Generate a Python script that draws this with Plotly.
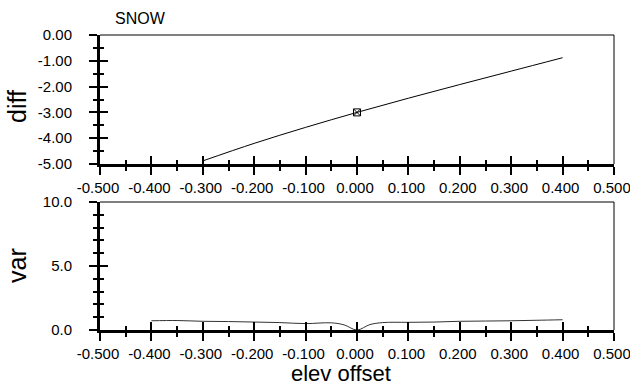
import plotly.graph_objects as go

# ---- data ----
diff_x = [-0.3, -0.2, -0.1, 0.0, 0.1, 0.2, 0.3, 0.4]
diff_y = [-4.88, -4.20, -3.58, -3.00, -2.45, -1.92, -1.40, -0.88]
marker_x = [0.0]
marker_y = [-3.0]

var_x = [-0.4, -0.35, -0.3, -0.25, -0.2, -0.15, -0.1, -0.05, -0.025, 0.0,
         0.025, 0.05, 0.1, 0.15, 0.2, 0.25, 0.3, 0.35, 0.4]
var_y = [0.72, 0.74, 0.68, 0.66, 0.62, 0.58, 0.50, 0.56, 0.40, 0.0,
         0.42, 0.58, 0.60, 0.62, 0.68, 0.70, 0.72, 0.76, 0.80]

x_tickvals = [-0.5, -0.4, -0.3, -0.2, -0.1, 0.0, 0.1, 0.2, 0.3, 0.4, 0.5]
x_ticktext = ["-0.500", "-0.400", "-0.300", "-0.200", "-0.100", "0.000",
              "0.100", "0.200", "0.300", "0.400", "0.500"]
diff_tickvals = [0, -1, -2, -3, -4, -5]
diff_ticktext = ["0.00", "-1.00", "-2.00", "-3.00", "-4.00", "-5.00"]
var_tickvals = [0, 5, 10]
var_ticktext = ["0.0", "5.0", "10.0"]

FONT = "Liberation Sans, Arial, sans-serif"
W, H = 630, 387
L, R, T, B = 100, 16, 35, 57
ph = H - T - B
top_dom = [(H - B - 164) / ph, 1.0]
bot_dom = [0.0, (H - B - 202) / ph]

fig = go.Figure()
fig.add_trace(go.Scatter(x=diff_x, y=diff_y, mode="lines", line=dict(color="black", width=1, shape="spline"),
                         xaxis="x", yaxis="y", showlegend=False))
fig.add_trace(go.Scatter(x=marker_x, y=marker_y, mode="markers",
                         marker=dict(symbol="square-x-open", size=7, color="black", line=dict(width=1)),
                         xaxis="x", yaxis="y", showlegend=False))
fig.add_trace(go.Scatter(x=var_x, y=var_y, mode="lines", line=dict(color="#333333", width=1, shape="spline"),
                         xaxis="x2", yaxis="y2", showlegend=False))
# empty traces so the inside-tick axes get drawn
for xa, ya in [("x3", "y3"), ("x4", "y4")]:
    fig.add_trace(go.Scatter(x=[None], y=[None], xaxis=xa, yaxis=ya, showlegend=False, hoverinfo="skip"))

tickfont = dict(family=FONT, size=15, color="black")

def xax(anchor, ticks, labels):
    return dict(range=[-0.5, 0.5], tickvals=x_tickvals, ticktext=x_ticktext,
                showticklabels=labels, ticks=ticks, ticklen=8, tickwidth=2, tickcolor="black",
                showline=True, linewidth=3, linecolor="black", showgrid=False, zeroline=False,
                anchor=anchor, domain=[0, 1], tickfont=tickfont, ticklabelshift=-2,
                ticklabelstandoff=0, ticklabeloverflow="allow", automargin=False,
                minor=dict(dtick=0.05, tick0=0, ticks=ticks, ticklen=4, tickwidth=2,
                           tickcolor="black", showgrid=False))

def yax(anchor, dom, rng, tv, tt, minor_dt, ticks, labels):
    return dict(range=rng, tickvals=tv, ticktext=tt, showticklabels=labels,
                ticks=ticks, ticklen=8, tickwidth=2, tickcolor="black",
                showline=True, linewidth=3, linecolor="black", showgrid=False, zeroline=False,
                anchor=anchor, domain=dom, tickfont=tickfont, ticklabelstandoff=14,
                automargin=False,
                minor=dict(dtick=minor_dt, tick0=0, ticks=ticks, ticklen=4, tickwidth=2,
                           tickcolor="black", showgrid=False))

fig.update_layout(
    width=W, height=H,
    margin=dict(l=L, r=R, t=T, b=B, pad=0, autoexpand=False),
    paper_bgcolor="white", plot_bgcolor="rgba(0,0,0,0)",
    font=dict(family=FONT, color="black"),
    xaxis=xax("y", "outside", True),
    yaxis=yax("x", top_dom, [-5, 0], diff_tickvals, diff_ticktext, 0.5, "outside", True),
    xaxis2=xax("y2", "outside", True),
    yaxis2=yax("x2", bot_dom, [0, 10], var_tickvals, var_ticktext, 1, "outside", True),
    xaxis3=xax("y3", "inside", False),
    yaxis3=yax("x3", top_dom, [-5, 0], diff_tickvals, diff_ticktext, 0.5, "inside", False),
    xaxis4=xax("y4", "inside", False),
    yaxis4=yax("x4", bot_dom, [0, 10], var_tickvals, var_ticktext, 1, "inside", False),
)

# thin top/right frame
for xr, yr in [("x", "y"), ("x2", "y2")]:
    fig.add_shape(type="line", xref=f"{xr} domain", yref=f"{yr} domain", x0=0, x1=1, y0=1, y1=1,
                  line=dict(color="black", width=1))
    fig.add_shape(type="line", xref=f"{xr} domain", yref=f"{yr} domain", x0=1, x1=1, y0=0, y1=1,
                  line=dict(color="black", width=1))

def ann(text, xpx, ypx, size, angle=0, xanchor="center"):
    fig.add_annotation(text=text, x=(xpx - L) / (W - L - R), y=(H - B - ypx) / ph,
                       xref="paper", yref="paper", showarrow=False, textangle=angle,
                       font=dict(family=FONT, size=size, color="black"),
                       xanchor=xanchor, yanchor="middle")

ann("SNOW", 113, 18, 16, xanchor="left")
ann("diff", 17, 107, 25, angle=-90)
ann("var", 17, 266, 25, angle=-90)
ann("elev offset", 341, 373, 22)

fig.write_html("out.html", config={"displayModeBar": False},
               post_script="document.body.style.margin='0';document.body.style.overflow='hidden';")
